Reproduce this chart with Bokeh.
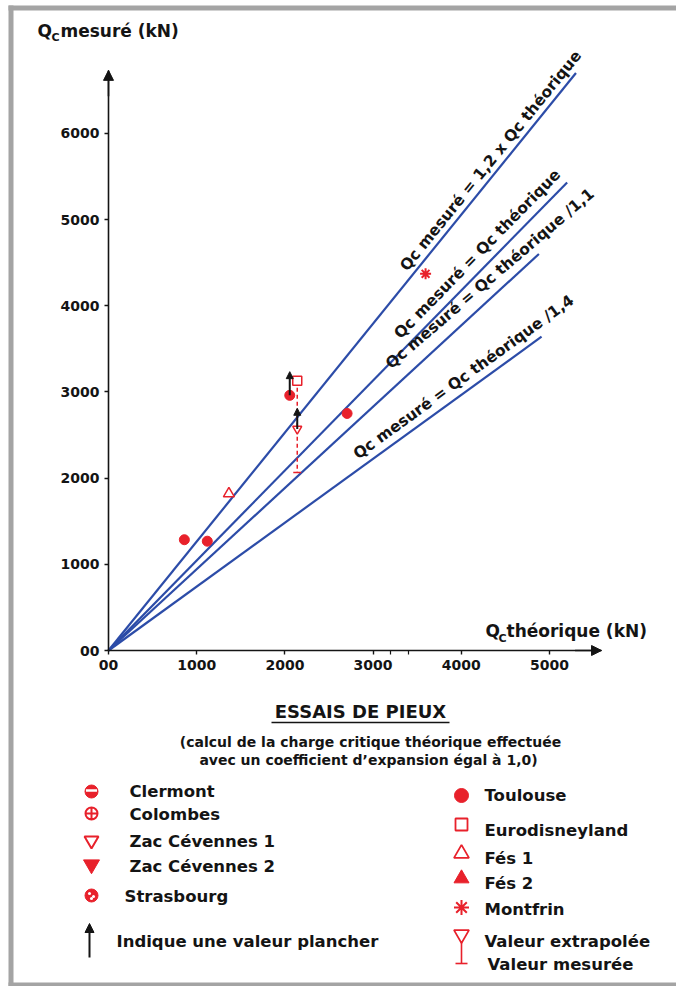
import math
from bokeh.plotting import figure
from bokeh.models import Range1d, LinearAxis, FixedTicker, Arrow, NormalHead
from bokeh.core.properties import value
from bokeh.embed import file_html
from bokeh.resources import INLINE

# ---------------- data ----------------
x_ticks = [0, 1000, 2000, 3000, 4000, 5000]
x_minor_ticks = [3200, 3400]
y_ticks = [0, 1000, 2000, 3000, 4000, 5000, 6000]
zero_tick_label = "00"
x_axis_end = 5590
y_axis_end = 6730

line_labels = ["Qc mesuré = 1,2 x Qc théorique", "Qc mesuré = Qc théorique",
               "Qc mesuré = Qc théorique /1,1", "Qc mesuré = Qc théorique /1,4"]
line_end_x = [5300, 5200, 4880, 4910]
line_end_y = [6700, 5430, 4600, 3640]

toulouse_x = [860, 1120, 2055, 2705]
toulouse_y = [1285, 1268, 2960, 2750]
eurodisney_x = [2140]
eurodisney_y = [3130]
fes1_x = [1365]
fes1_y = [1820]
montfrin_x = [3595]
montfrin_y = [4370]
extrapolated_x = [2140]
extrapolated_y = [2570]
measured_x = [2140]
measured_y = [2065]
floor_x = [2055, 2140]
floor_from = [2960, 2570]
floor_to = [3235, 2810]

y_title_sub = ("Q", "C", "mesuré (kN)")
x_title_sub = ("Q", "C", "théorique (kN)")
title = "ESSAIS DE PIEUX"
subtitle = ["(calcul de la charge critique théorique effectuée",
            "avec un coefficient d’expansion égal à 1,0)"]
left_legend = ["Clermont", "Colombes", "Zac Cévennes 1", "Zac Cévennes 2", "Strasbourg"]
right_legend = ["Toulouse", "Eurodisneyland", "Fés 1", "Fés 2", "Montfrin",
                "Valeur extrapolée", "Valeur mesurée"]
floor_note = "Indique une valeur plancher"

# ---------------- layout / style ----------------
W, H = 676, 986
OX, OY = 108, 650          # pixel of the origin
SX, SY = 0.0882, 0.0862    # pixels per kN
FONT = "DejaVu Sans"
INK = "#141414"
RED = "#e8212b"
BLUE = "#2c4ca8"
GRAY = "#a4a4a4"


def X(px):
    return (px - OX) / SX


def Y(py):
    return (OY - py) / SY


p = figure(width=W, height=H, x_range=Range1d(X(0), X(W)), y_range=Range1d(Y(H), Y(0)),
           x_axis_location=None, y_axis_location=None, toolbar_location=None,
           output_backend="svg", min_border=0, outline_line_color=None,
           background_fill_color="white", border_fill_color="white")
p.grid.visible = False


def style_axis(ax):
    ax.axis_line_color = INK
    ax.axis_line_width = 1.6
    ax.major_tick_line_color = INK
    ax.major_tick_line_width = 1.4
    ax.major_tick_in = 0
    ax.major_tick_out = 4
    ax.minor_tick_line_color = INK
    ax.minor_tick_line_width = 1.2
    ax.minor_tick_in = 0
    ax.minor_tick_out = 4
    ax.major_label_text_font = FONT
    ax.major_label_text_font_style = "bold"
    ax.major_label_text_font_size = "14px"
    ax.major_label_text_color = INK
    ax.major_label_standoff = 5
    ax.major_label_overrides = {0: zero_tick_label}


xaxis = LinearAxis(fixed_location=0, bounds=(0, x_axis_end),
                   ticker=FixedTicker(ticks=x_ticks, minor_ticks=x_minor_ticks))
style_axis(xaxis)
p.add_layout(xaxis, "below")
yaxis = LinearAxis(fixed_location=0, bounds=(0, y_axis_end),
                   ticker=FixedTicker(ticks=y_ticks))
style_axis(yaxis)
p.add_layout(yaxis, "left")

p.add_layout(Arrow(end=NormalHead(size=10, fill_color=INK, line_color=INK),
                   x_start=x_axis_end - 300, y_start=0, x_end=x_axis_end, y_end=0,
                   line_color=INK, line_width=1.6))
p.add_layout(Arrow(end=NormalHead(size=10, fill_color=INK, line_color=INK),
                   x_start=0, y_start=y_axis_end - 300, x_end=0, y_end=y_axis_end,
                   line_color=INK, line_width=1.6))

# gray frame
p.quad(left=[X(8), X(8), X(8)], right=[X(13), X(W), X(W)],
       top=[Y(5), Y(5), Y(982)], bottom=[Y(H), Y(10), Y(H)],
       fill_color=GRAY, line_color=None)


def txt(xpx, ypx, s, size, align="left", angle=0.0, style="bold"):
    p.text(x=[X(xpx)], y=[Y(ypx)], text=[s], text_font=value(FONT),
           text_font_style=style, text_font_size=size, text_align=align,
           text_baseline="middle", text_color=INK, angle=angle)


# reference lines
p.segment(x0=[0] * 4, y0=[0] * 4, x1=line_end_x, y1=line_end_y,
          line_color=BLUE, line_width=2.2)

label_t = [0.836, 0.826, 0.91, 0.838]
label_gap = [11, 14, 15, 13]
label_angle = [None, None, 40.5, None]
for s, ex, ey, t, g, a in zip(line_labels, line_end_x, line_end_y, label_t, label_gap, label_angle):
    epx, epy = ex * SX, ey * SY
    L = math.hypot(epx, epy)
    ux, uy = epx / L, epy / L
    cx = t * L * ux - g * uy
    cy = t * L * uy + g * ux
    ang = math.atan2(epy, epx) if a is None else math.radians(a)
    p.text(x=[cx / SX], y=[cy / SY], text=[s], text_font=value(FONT),
           text_font_style="bold", text_font_size="15.5px", text_align="center",
           text_baseline="middle", text_color=INK, angle=ang)

# data points
p.segment(x0=measured_x, y0=eurodisney_y, x1=measured_x, y1=measured_y,
          line_color=RED, line_width=1.5, line_dash="4 3")
p.scatter(measured_x, measured_y, marker="dash", size=8, line_color=RED, line_width=1.5)
p.scatter(extrapolated_x, extrapolated_y, marker="inverted_triangle", size=9,
          fill_color="white", line_color=RED, line_width=1.5)
p.scatter(toulouse_x, toulouse_y, marker="circle", size=10, fill_color=RED, line_color=RED)
p.scatter(eurodisney_x, eurodisney_y, marker="square", size=9, fill_color="white",
          line_color=RED, line_width=1.5)
p.scatter(fes1_x, fes1_y, marker="triangle", size=11, fill_color="white",
          line_color=RED, line_width=1.5)
p.scatter(montfrin_x, montfrin_y, marker="asterisk", size=11, line_color=RED, line_width=2)
for fx, f0, f1 in zip(floor_x, floor_from, floor_to):
    p.add_layout(Arrow(end=NormalHead(size=7, fill_color=INK, line_color=INK),
                       x_start=fx, y_start=f0, x_end=fx, y_end=f1,
                       line_color=INK, line_width=2))

# axis titles
txt(37, 30, y_title_sub[0], "17px")
txt(51, 37, y_title_sub[1], "11px")
txt(60, 30, y_title_sub[2], "17px")
txt(485, 630, x_title_sub[0], "17px")
txt(498, 638, x_title_sub[1], "11px")
txt(506, 630, x_title_sub[2], "17px")

# caption
txt(360, 711, title, "18px", align="center")
p.segment(x0=[X(271)], y0=[Y(722)], x1=[X(449)], y1=[Y(722)], line_color=INK, line_width=1.5)
txt(370, 741, subtitle[0], "14px", align="center")
txt(368, 759, subtitle[1], "14px", align="center")

# left legend
LMX = 91
left_y = [791, 813, 840, 864, 895]
left_text_y = [791, 814, 841, 866, 896]
left_text_x = [129, 129, 129, 129, 124]
p.scatter([X(LMX)], [Y(left_y[0])], marker="circle", size=13, fill_color=RED, line_color=RED)
p.scatter([X(LMX)], [Y(left_y[0] - 1)], marker="dash", size=11, line_color="white", line_width=2.5)
p.scatter([X(LMX)], [Y(left_y[1])], marker="circle_cross", size=12, fill_color="white",
          line_color=RED, line_width=2)
p.scatter([X(LMX)], [Y(left_y[2])], marker="inverted_triangle", size=14, fill_color="white",
          line_color=RED, line_width=2)
p.scatter([X(LMX)], [Y(left_y[3])], marker="inverted_triangle", size=16, fill_color=RED,
          line_color=RED)
p.scatter([X(LMX)], [Y(left_y[4])], marker="circle", size=13, fill_color=RED, line_color=RED)
p.scatter([X(LMX - 2), X(LMX + 2), X(LMX)], [Y(left_y[4] - 2), Y(left_y[4] + 1), Y(left_y[4] + 3)],
          marker="circle", size=3, fill_color="white", line_color=None)
for s, tx, ty in zip(left_legend, left_text_x, left_text_y):
    txt(tx, ty, s, "16.5px")
p.add_layout(Arrow(end=NormalHead(size=9, fill_color=INK, line_color=INK),
                   x_start=X(LMX - 2), y_start=Y(957), x_end=X(LMX - 2), y_end=Y(923),
                   line_color=INK, line_width=2))
txt(116, 941, floor_note, "16.5px")

# right legend
RMX = 461
right_y = [795, 824, 853, 878, 907, 934]
right_text_y = [795, 830, 858, 883, 909, 941, 964]
right_text_x = [484, 484, 484, 484, 484, 484, 487]
p.scatter([X(RMX)], [Y(right_y[0])], marker="circle", size=14, fill_color=RED, line_color=RED)
p.scatter([X(RMX)], [Y(right_y[1])], marker="square", size=12, fill_color="white",
          line_color=RED, line_width=1.8)
p.scatter([X(RMX)], [Y(right_y[2])], marker="triangle", size=15, fill_color="white",
          line_color=RED, line_width=1.8)
p.scatter([X(RMX)], [Y(right_y[3])], marker="triangle", size=15, fill_color=RED, line_color=RED)
p.scatter([X(RMX)], [Y(right_y[4])], marker="asterisk", size=15, line_color=RED, line_width=2)
p.scatter([X(RMX)], [Y(right_y[5])], marker="inverted_triangle", size=15, fill_color="white",
          line_color=RED, line_width=1.8)
p.segment(x0=[X(RMX)], y0=[Y(941)], x1=[X(RMX)], y1=[Y(963)], line_color=RED, line_width=1.6)
p.segment(x0=[X(RMX - 6)], y0=[Y(963)], x1=[X(RMX + 6)], y1=[Y(963)], line_color=RED, line_width=1.6)
for s, tx, ty in zip(right_legend, right_text_x, right_text_y):
    txt(tx, ty, s, "16.5px")

open("out.html", "w").write(file_html(p, INLINE))
